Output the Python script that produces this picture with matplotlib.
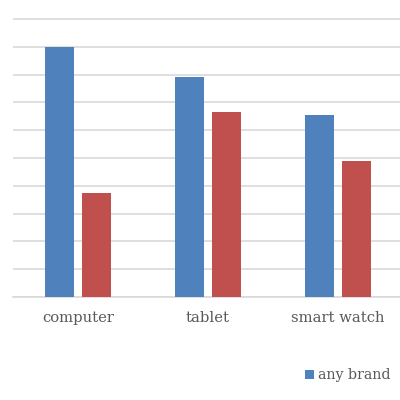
import matplotlib
matplotlib.use("Agg")
import matplotlib.pyplot as plt
import numpy as np

categories = ["computer", "tablet", "smart watch"]
any_brand = [9.0, 7.9, 6.55]
other_brand = [3.75, 6.65, 4.88]
series_labels = ["any brand"]

blue = "#4F81BD"
red = "#C0504D"
text_color = "#595959"

fig = plt.figure(figsize=(4, 4), dpi=100)
ax = fig.add_axes([13/400, 103/400, 390/400, 279/400])

x = np.arange(len(categories))
w = 0.223
off = 0.143
b1 = ax.bar(x - off, any_brand, width=w, color=blue, zorder=3)
b2 = ax.bar(x + off, other_brand, width=w, color=red, zorder=3)

ax.set_xlim(-0.5, 2.5)
ax.set_ylim(0, 10.036)
ax.set_yticks(np.arange(0, 11, 1))
ax.yaxis.grid(True, color="#D9D9D9", linewidth=1.2, zorder=0)
ax.set_yticklabels([])
ax.tick_params(axis="y", length=0)
ax.tick_params(axis="x", length=0, pad=10)
ax.set_xticks(x)
ax.set_xticklabels(categories, fontsize=10.6, color=text_color, family="DejaVu Serif")
for s in ["top", "right", "left"]:
    ax.spines[s].set_visible(False)
ax.spines["bottom"].set_color("#D9D9D9")
ax.spines["bottom"].set_linewidth(1.2)

fig.legend([b1], series_labels, loc="center left", bbox_to_anchor=(305/400, 1 - 375/400),
           frameon=False, handlelength=0.6, handleheight=0.6, handletextpad=0.35,
           borderpad=0, borderaxespad=0,
           prop={"family": "DejaVu Serif", "size": 10.2}, labelcolor=text_color)

fig.savefig("out.png", dpi=100)
